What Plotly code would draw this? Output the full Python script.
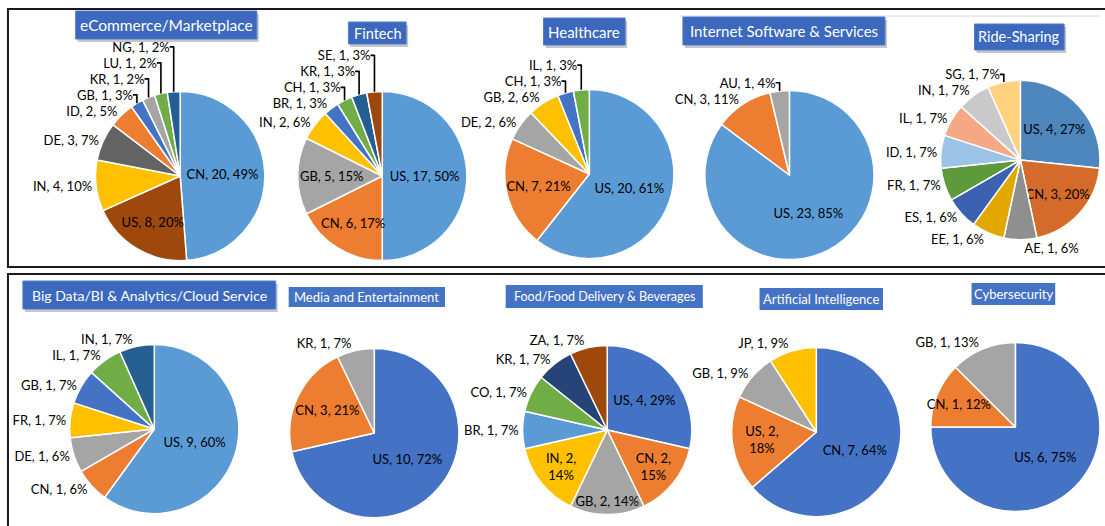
import plotly.graph_objects as go

W, H = 1105, 526

# ---------------- data ----------------
ecom_labels = ["CN", "US", "IN", "DE", "ID", "GB", "KR", "LU", "NG"]
ecom_values = [20, 8, 4, 3, 2, 1, 1, 1, 1]
ecom_pcts = [49, 20, 10, 7, 5, 3, 2, 2, 2]

fin_labels = ["US", "CN", "GB", "IN", "BR", "CH", "KR", "SE"]
fin_values = [17, 6, 5, 2, 1, 1, 1, 1]
fin_pcts = [50, 17, 15, 6, 3, 3, 3, 3]

health_labels = ["US", "CN", "DE", "GB", "CH", "IL"]
health_values = [20, 7, 2, 2, 1, 1]
health_pcts = [61, 21, 6, 6, 3, 3]

inet_labels = ["US", "CN", "AU"]
inet_values = [23, 3, 1]
inet_pcts = [85, 11, 4]

ride_labels = ["US", "CN", "AE", "EE", "ES", "FR", "ID", "IL", "IN", "SG"]
ride_values = [4, 3, 1, 1, 1, 1, 1, 1, 1, 1]
ride_pcts = [27, 20, 6, 6, 6, 7, 7, 7, 7, 7]

bigdata_labels = ["US", "CN", "DE", "FR", "GB", "IL", "IN"]
bigdata_values = [9, 1, 1, 1, 1, 1, 1]
bigdata_pcts = [60, 6, 6, 7, 7, 7, 7]

media_labels = ["US", "CN", "KR"]
media_values = [10, 3, 1]
media_pcts = [72, 21, 7]

food_labels = ["US", "CN", "GB", "IN", "BR", "CO", "KR", "ZA"]
food_values = [4, 2, 2, 2, 1, 1, 1, 1]
food_pcts = [29, 15, 14, 14, 7, 7, 7, 7]

ai_labels = ["CN", "US", "GB", "JP"]
ai_values = [7, 2, 1, 1]
ai_pcts = [64, 18, 9, 9]

cyber_labels = ["US", "CN", "GB"]
cyber_values = [6, 1, 1]
cyber_pcts = [75, 12, 13]

titles = ["eCommerce/Marketplace", "Fintech", "Healthcare",
          "Internet Software & Services", "Ride-Sharing",
          "Big Data/BI & Analytics/Cloud Service", "Media and Entertainment",
          "Food/Food Delivery & Beverages", "Artificial Intelligence",
          "Cybersecurity"]

# ---------------- styles ----------------
ecom_colors = ["#5B9BD5", "#9E480E", "#FFC000", "#636363", "#ED7D31",
               "#4472C4", "#A5A5A5", "#70AD47", "#255E91"]
fin_colors = ["#5B9BD5", "#ED7D31", "#A5A5A5", "#FFC000", "#4472C4",
              "#70AD47", "#255E91", "#9E480E"]
health_colors = ["#5B9BD5", "#ED7D31", "#A5A5A5", "#FFC000", "#4472C4", "#70AD47"]
inet_colors = ["#5B9BD5", "#ED7D31", "#A5A5A5"]
ride_colors = ["#4E86BE", "#D46B2A", "#8F8F8F", "#E2A800", "#3A62B0",
               "#5D9A3C", "#9DC3E6", "#F4A886", "#C9C9C9", "#FFD27F"]
bigdata_colors = ["#5B9BD5", "#ED7D31", "#A5A5A5", "#FFC000", "#4472C4",
                  "#70AD47", "#255E91"]
media_colors = ["#4472C4", "#ED7D31", "#A5A5A5"]
food_colors = ["#4472C4", "#ED7D31", "#A5A5A5", "#FFC000", "#5B9BD5",
               "#70AD47", "#264478", "#9E480E"]
ai_colors = ["#4472C4", "#ED7D31", "#A5A5A5", "#FFC000"]
cyber_colors = ["#4472C4", "#ED7D31", "#A5A5A5"]

I, O = "inside", "outside"
ecom_pos = [I, I, O, O, O, O, O, O, O]
fin_pos = [I, I, I, O, O, O, O, O]
health_pos = [I, I, O, O, O, O]
inet_pos = [I, O, O]
ride_pos = [I, I, O, O, O, O, O, O, O, O]
bigdata_pos = [I, O, O, O, O, O, O]
media_pos = [I, I, O]
food_pos = [I, I, I, I, O, O, O, O]
ai_pos = [I, I, O, O]
cyber_pos = [I, I, O]

# labels wrapped onto two lines (chart index, label)
wrapped = {(7, "CN"), (7, "IN"), (8, "US")}

# (center x, center y, radius) in pixels
geom = [(181, 176, 85), (384, 176, 85), (592, 174, 85), (793, 175, 85),
        (1025, 160, 80),
        (155, 429, 85), (376, 433, 85), (610, 430, 85), (820, 432, 85),
        (1020, 427, 85)]

# title boxes: x0, x1, y0, y1, font size, shadow
tboxes = [(76, 258, 11, 39, 15.5, True), (350, 408, 22, 44, 14.5, True),
          (546, 628, 18, 45, 15, True), (686, 889, 17, 45, 15, True),
          (979, 1069, 24, 50, 14.5, True), (23, 277, 281, 309, 14, True),
          (290, 447, 287, 307, 13, False), (508, 706, 285, 308, 12.5, False),
          (763, 887, 288, 310, 13, False), (976, 1060, 283, 305, 13, False)]

charts = [
    (ecom_labels, ecom_values, ecom_pcts, ecom_colors, ecom_pos),
    (fin_labels, fin_values, fin_pcts, fin_colors, fin_pos),
    (health_labels, health_values, health_pcts, health_colors, health_pos),
    (inet_labels, inet_values, inet_pcts, inet_colors, inet_pos),
    (ride_labels, ride_values, ride_pcts, ride_colors, ride_pos),
    (bigdata_labels, bigdata_values, bigdata_pcts, bigdata_colors, bigdata_pos),
    (media_labels, media_values, media_pcts, media_colors, media_pos),
    (food_labels, food_values, food_pcts, food_colors, food_pos),
    (ai_labels, ai_values, ai_pcts, ai_colors, ai_pos),
    (cyber_labels, cyber_values, cyber_pcts, cyber_colors, cyber_pos),
]

FONT = "Lato"


def px(x):
    return x / W


def py(y):
    return 1 - y / H


def clip(v):
    return max(0.0, min(1.0, v))


fig = go.Figure()
for k, ((labels, values, pcts, colors, pos), (cx, cy, r)) in enumerate(zip(charts, geom)):
    texts = []
    for lab, val, pct in zip(labels, values, pcts):
        sep = ",<br>" if (k, lab) in wrapped else ", "
        texts.append(f"{lab}, {val}{sep}{pct}%")
    fig.add_trace(go.Pie(
        labels=labels, values=values, text=texts, texttemplate="%{text}",
        textinfo="text", textposition=pos, sort=False, direction="clockwise",
        rotation=0, hoverinfo="label+value+percent",
        marker=dict(colors=colors, line=dict(color="white", width=1.5)),
        insidetextorientation="horizontal",
        insidetextfont=dict(color="black", size=13, family=FONT),
        outsidetextfont=dict(color="black", size=13, family=FONT),
        domain=dict(x=[clip(px(cx - r)), clip(px(cx + r))],
                    y=[clip(py(cy + r)), clip(py(cy - r))]),
        showlegend=False,
    ))

shapes = []
# frames
shapes.append(dict(type="rect", xref="paper", yref="paper",
                   x0=px(8), x1=px(1112), y0=py(267), y1=py(9),
                   line=dict(color="#1a1a1a", width=2), layer="below"))
shapes.append(dict(type="rect", xref="paper", yref="paper",
                   x0=px(8), x1=px(1112), y0=py(532), y1=py(274),
                   line=dict(color="#1a1a1a", width=2), layer="below"))
shapes.append(dict(type="line", xref="paper", yref="paper",
                   x0=px(683), x1=px(1105), y0=py(16), y1=py(16),
                   line=dict(color="#d4d4d4", width=1), layer="below"))

annotations = []
for title, (x0, x1, y0, y1, fs, shadow) in zip(titles, tboxes):
    if shadow:
        shapes.append(dict(type="rect", xref="paper", yref="paper",
                           x0=px(x0 + 2), x1=px(x1 + 2), y0=py(y1 + 3), y1=py(y0 + 3),
                           fillcolor="rgba(0,0,0,0.22)", line=dict(width=0)))
        shapes.append(dict(type="rect", xref="paper", yref="paper",
                           x0=px(x0), x1=px(x1), y0=py(y1), y1=py(y0),
                           fillcolor="#3C69BE", line=dict(color="#4F7DCF", width=1)))
    else:
        shapes.append(dict(type="rect", xref="paper", yref="paper",
                           x0=px(x0), x1=px(x1), y0=py(y1), y1=py(y0),
                           fillcolor="#4472C4", line=dict(width=0)))
    annotations.append(dict(xref="paper", yref="paper",
                            x=px((x0 + x1) / 2), y=py((y0 + y1) / 2),
                            text=title, showarrow=False,
                            xanchor="center", yanchor="middle",
                            font=dict(color="white", size=fs, family=FONT)))

fig.update_layout(
    width=W, height=H, margin=dict(l=0, r=0, t=0, b=0),
    paper_bgcolor="white", plot_bgcolor="white",
    shapes=shapes, annotations=annotations,
    uniformtext=dict(mode="show", minsize=13),
    font=dict(family=FONT, size=13, color="black"),
)

fig.write_html("out.html",
               config={"displayModeBar": False},
               post_script="document.body.style.margin='0';"
                           "document.body.style.overflow='hidden';")
